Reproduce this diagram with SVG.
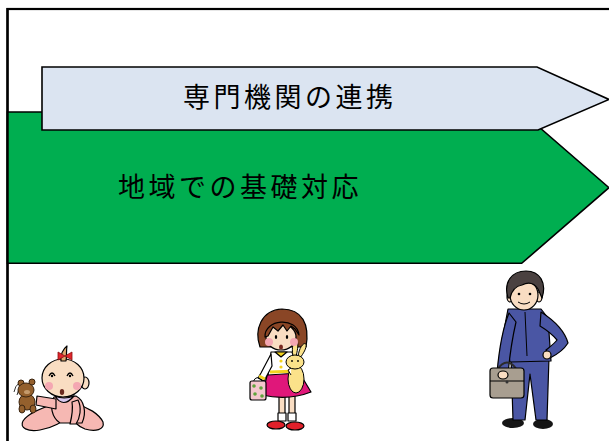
<svg xmlns="http://www.w3.org/2000/svg" width="609" height="441" viewBox="0 0 609 441">
  <defs>
    <style>
      .ink { stroke: #000; stroke-width: 1.2; stroke-linejoin: round; stroke-linecap: round; }
      .arrow { stroke: #000; stroke-width: 1.6; stroke-linejoin: miter; }
      .label { font-family: "Noto Sans CJK JP", "Noto Sans", sans-serif; font-size: 27px; letter-spacing: 3.5px; fill: #000; }
      .skin { fill: #F9DDC2; }
      .cheek { fill: #F4A7B2; stroke: none; }
    </style>
  </defs>

  <!-- page background and frame -->
  <rect x="0" y="0" width="609" height="441" fill="#fff"/>
  <rect x="7.5" y="9" width="640" height="460" fill="none" stroke="#000" stroke-width="2.2"/>

  <!-- band: community basics -->
  <g id="band-community">
    <polygon class="arrow" points="7.5,112 521.7,112 609,187.7 521.7,263.3 7.5,263.3" fill="#00AE50"/>
    <text class="label" x="118" y="197">地域での基礎対応</text>
  </g>

  <!-- band: specialist cooperation -->
  <g id="band-specialist">
    <polygon class="arrow" points="42,67 537,67 609,99.5 538,130 42,130" fill="#DBE4F1"/>
    <text class="label" x="183" y="107">専門機関の連携</text>
  </g>

  <!-- frame left edge over the band -->
  <line x1="7.5" y1="8" x2="7.5" y2="441" stroke="#000" stroke-width="2.2"/>

  <!-- baby -->
  <g id="baby">
    <!-- motion lines -->
    <path d="M14,392 Q15,386 19,383 M17,395 Q18,390 21,387" fill="none" stroke="#333" stroke-width="1"/>
    <!-- left leg -->
    <path class="ink" d="M54,404 C42,408 28,413 23,421 C19,428 28,432 40,430 C52,428 64,422 70,414 Z" fill="#F6B8B3"/>
    <!-- right leg -->
    <path class="ink" d="M76,404 C88,407 99,414 103,422 C105,430 95,432 85,429 C78,426 72,421 70,414 Z" fill="#F6B8B3"/>
    <!-- torso -->
    <path class="ink" d="M54,397 C49,405 52,418 60,423 L82,423 C87,412 84,400 76,396 Z" fill="#F6B8B3"/>
    <!-- arm towards the bear -->
    <path class="ink" d="M56,399 L37,396 L36,405 L56,409 Z" fill="#F6B8B3"/>
    <!-- arm down -->
    <path class="ink" d="M78,400 C82,408 80,418 76,424 L70,424 C72,416 73,408 72,402 Z" fill="#F6B8B3"/>
    <!-- teddy bear -->
    <g fill="#94602D" stroke="#3a2410" stroke-width="1">
      <circle cx="21" cy="383" r="3"/>
      <circle cx="32" cy="382" r="3"/>
      <ellipse cx="27" cy="402" rx="8" ry="8"/>
      <ellipse cx="26" cy="390" rx="8" ry="7"/>
      <ellipse cx="22" cy="409" rx="3" ry="4"/>
      <ellipse cx="33" cy="409" rx="3" ry="4"/>
    </g>
    <ellipse cx="27" cy="392" rx="3" ry="2" fill="#C49A6C"/>
    <!-- bib -->
    <path class="ink" d="M55,396 Q63,409 74,396 Q64,400 55,396 Z" fill="#D9C8EE"/>
    <!-- head -->
    <ellipse class="ink skin" cx="85" cy="383" rx="4" ry="6"/>
    <ellipse class="ink skin" cx="63" cy="378" rx="21" ry="19"/>
    <!-- tuft and bow -->
    <path class="ink" d="M61,361 C60,355 63,349 67,346 C66,351 67,356 66,361 Z" fill="#DDA76F"/>
    <path d="M65,356 L58,352 L58,360 Z M65,356 L72,352 L72,360 Z" fill="#E2262D" stroke="#8a1010" stroke-width="0.8"/>
    <!-- face -->
    <path d="M49,376 Q52,370 55,376 M67,376 Q70,370 73,376" fill="none" stroke="#000" stroke-width="1.3"/>
    <circle cx="52" cy="376" r="1.2"/>
    <circle cx="70" cy="376" r="1.2"/>
    <circle class="cheek" cx="49" cy="386" r="4"/>
    <circle class="cheek" cx="77" cy="386" r="4"/>
    <ellipse cx="62" cy="392" rx="2.2" ry="3" fill="#6b2a20"/>
  </g>

  <!-- girl -->
  <g id="girl">
    <!-- hair back -->
    <path class="ink" d="M260,347 C254,330 261,310 282,309 C302,309 310,324 306,347 Z" fill="#8A4626"/>
    <!-- legs -->
    <rect class="ink skin" x="279" y="394" width="6" height="24"/>
    <rect class="ink skin" x="289" y="394" width="6" height="24"/>
    <rect class="ink" x="278" y="413" width="8" height="8" fill="#fff"/>
    <rect class="ink" x="288" y="413" width="8" height="8" fill="#fff"/>
    <ellipse class="ink" cx="276" cy="425" rx="9" ry="4" fill="#E0202A"/>
    <ellipse class="ink" cx="295" cy="426" rx="9" ry="4" fill="#E0202A"/>
    <!-- skirt -->
    <path class="ink" d="M268,372 L299,372 L311,392 Q288,401 262,395 Z" fill="#E0177A"/>
    <!-- blouse -->
    <path class="ink" d="M271,352 L292,352 L299,373 L268,375 Z" fill="#fff"/>
    <path class="ink" d="M271,354 L261,373 L258,378 L264,381 L272,366 Z" fill="#fff"/>
    <path d="M259,376 L265,379" stroke="#F3D21E" stroke-width="3"/>
    <path d="M270,372 L298,371" stroke="#F3D21E" stroke-width="3"/>
    <path class="ink" d="M275,352 L281,357 L287,352 Z" fill="#F3D21E"/>
    <circle cx="281" cy="361" r="1.6" fill="#F3D21E"/>
    <circle cx="281" cy="367" r="1.6" fill="#F3D21E"/>
    <!-- bag -->
    <path d="M253,382 Q257,373 263,382" fill="none" stroke="#000" stroke-width="1"/>
    <rect class="ink" x="250" y="381" width="16" height="19" rx="2" fill="#F5C7CE"/>
    <g fill="#5FA33A">
      <circle cx="254" cy="386" r="1.8"/>
      <circle cx="261" cy="388" r="1.8"/>
      <circle cx="255" cy="394" r="1.8"/>
      <circle cx="262" cy="396" r="1.8"/>
    </g>
    <!-- rabbit -->
    <g fill="#FBE28A" stroke="#000" stroke-width="1">
      <path d="M293,356 C291,346 294,340 297,341 C299,344 297,352 296,357 Z"/>
      <path d="M298,357 C299,347 304,342 306,344 C307,348 303,354 300,358 Z"/>
      <ellipse cx="296" cy="379" rx="8" ry="14"/>
      <ellipse cx="295" cy="362" rx="9" ry="7"/>
    </g>
    <circle cx="292" cy="361" r="0.9"/>
    <circle cx="298" cy="361" r="0.9"/>
    <path d="M291,375 L288,370 L291,368" fill="#fff" stroke="#000" stroke-width="1"/>
    <!-- face -->
    <ellipse class="ink skin" cx="281" cy="337" rx="15" ry="13"/>
    <path class="ink" d="M265,337 C264,319 297,316 299,335 L295,329 L291,326 L287,331 L283,325 L278,331 L273,327 L268,336 Z" fill="#8A4626"/>
    <ellipse cx="276" cy="337" rx="1.2" ry="2"/>
    <ellipse cx="287" cy="337" rx="1.2" ry="2"/>
    <circle class="cheek" cx="269" cy="342" r="4"/>
    <circle class="cheek" cx="294" cy="342" r="4"/>
    <ellipse cx="281" cy="347" rx="2" ry="2.5" fill="#7a2a20"/>
  </g>

  <!-- man -->
  <g id="man">
    <!-- shoes -->
    <ellipse cx="513" cy="423" rx="11" ry="5" fill="#151515"/>
    <ellipse cx="543" cy="424" rx="10" ry="5" fill="#151515"/>
    <!-- trousers -->
    <path class="ink" d="M511,357 L549,357 L547,420 L536,420 L530,374 L525,420 L513,420 Z" fill="#4A56A4"/>
    <!-- jacket -->
    <path class="ink" d="M508,309 L541,309 L548,318 L551,361 L510,362 L504,330 Z" fill="#4A56A4"/>
    <path d="M525,312 L527,356" stroke="#000" stroke-width="1"/>
    <!-- arm down -->
    <path class="ink" d="M509,313 C502,330 499,350 497,373 L508,374 C510,352 513,335 516,322 Z" fill="#4A56A4"/>
    <!-- arm on hip -->
    <path class="ink" d="M541,312 C555,321 565,332 568,343 C563,351 556,355 550,358 L546,350 C551,346 555,343 557,340 C552,334 545,329 540,326 Z" fill="#4A56A4"/>
    <ellipse class="ink skin" cx="547" cy="355" rx="4" ry="4"/>
    <!-- bag -->
    <path d="M497,370 Q507,355 517,370" fill="none" stroke="#2b2b2b" stroke-width="2"/>
    <rect class="ink" x="490" y="368" width="34" height="30" rx="3" fill="#A89E90"/>
    <path d="M490,381 L524,381" stroke="#000" stroke-width="1"/>
    <circle cx="507" cy="382" r="1.5" fill="#333"/>
    <ellipse class="ink skin" cx="503" cy="375" rx="5" ry="4"/>
    <!-- head -->
    <ellipse class="ink skin" cx="510" cy="297" rx="3" ry="5"/>
    <ellipse class="ink skin" cx="539" cy="297" rx="3" ry="5"/>
    <ellipse class="ink skin" cx="524" cy="295" rx="14" ry="15"/>
    <path class="ink" d="M508,298 C503,282 512,271 526,271 C540,271 547,283 542,298 L538,289 C534,283 528,282 522,285 C516,286 512,289 510,298 Z" fill="#4A4140"/>
    <circle cx="519" cy="294" r="1.3"/>
    <circle cx="530" cy="294" r="1.3"/>
    <path d="M518,302 Q524,306 530,302" fill="none" stroke="#000" stroke-width="1"/>
  </g>
</svg>
